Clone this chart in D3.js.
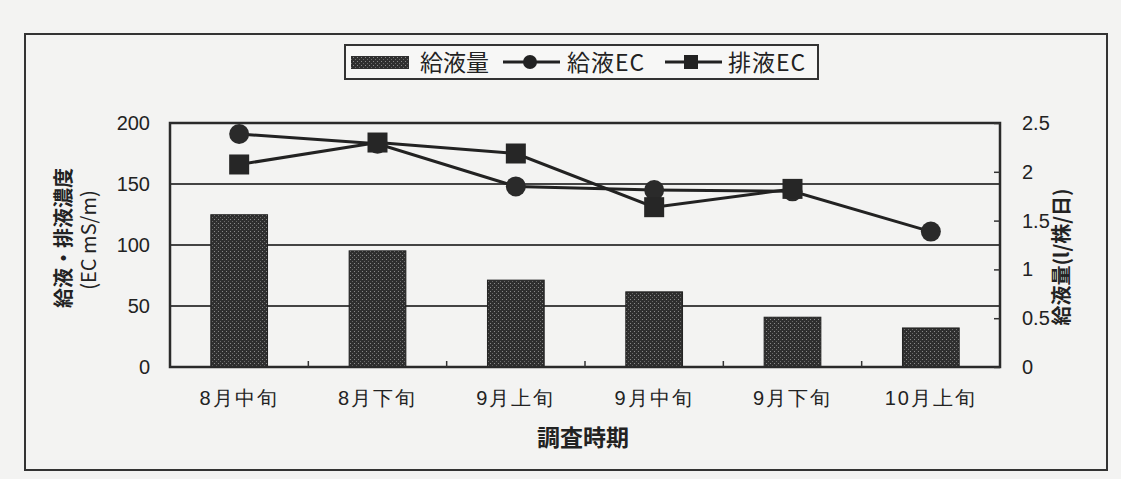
<!DOCTYPE html>
<html>
<head>
<meta charset="utf-8">
<script src="https://cdn.jsdelivr.net/npm/d3@7"></script>
<style>
  body { margin: 0; background: #f3f3f2; }
  svg { display: block; font-family: "Noto Sans CJK JP", "Noto Sans", sans-serif; }
</style>
</head>
<body>
<div id="chart"></div>
<script>
// data
var periods = ["8月中旬", "8月下旬", "9月上旬", "9月中旬", "9月下旬", "10月上旬"];
var supplyVolume = [1.56, 1.19, 0.89, 0.77, 0.51, 0.40];   // 給液量 (l/株/日)
var supplyEC = [191, 183, 148, 145, 144, 111];               // 給液EC
var drainEC = [166, 184, 175, 131, 146, null];               // 排液EC
var leftTicks = [0, 50, 100, 150, 200];
var rightTicks = [0, 0.5, 1, 1.5, 2, 2.5];

var W = 1121, H = 479;
var margin = {top: 123, right: 121, bottom: 112, left: 170};
var width = W - margin.left - margin.right,
    height = H - margin.top - margin.bottom;

var svg = d3.select("#chart").append("svg")
    .attr("width", W)
    .attr("height", H);

// bar texture
var defs = svg.append("defs");
var pat = defs.append("pattern")
    .attr("id", "stipple")
    .attr("width", 4).attr("height", 4)
    .attr("patternUnits", "userSpaceOnUse");
pat.append("rect").attr("width", 4).attr("height", 4).attr("fill", "#2f2f2f");
pat.append("rect").attr("x", 0).attr("y", 0).attr("width", 1).attr("height", 1).attr("fill", "#8a8a8a");
pat.append("rect").attr("x", 2).attr("y", 2).attr("width", 1).attr("height", 1).attr("fill", "#6a6a6a");

// outer frame
svg.append("rect")
    .attr("x", 25).attr("y", 34)
    .attr("width", 1082).attr("height", 436)
    .attr("fill", "none").attr("stroke", "#333").attr("stroke-width", 2);

var g = svg.append("g")
    .attr("transform", "translate(" + margin.left + "," + margin.top + ")");

var x = d3.scaleBand().domain(periods).range([0, width]).paddingInner(0.59).paddingOuter(0.295);
var xc = d3.scaleBand().domain(periods).range([0, width]);
var yL = d3.scaleLinear().domain([0, 200]).range([height, 0]);
var yR = d3.scaleLinear().domain([0, 2.5]).range([height, 0]);

// gridlines
g.selectAll(".grid").data(leftTicks.slice(1, 4)).enter().append("line")
    .attr("x1", 0).attr("x2", width)
    .attr("y1", function(d) { return yL(d); })
    .attr("y2", function(d) { return yL(d); })
    .attr("stroke", "#444").attr("stroke-width", 2);

// bars
g.selectAll(".bar").data(supplyVolume).enter().append("rect")
    .attr("x", function(d, i) { return x(periods[i]); })
    .attr("width", x.bandwidth())
    .attr("y", function(d) { return yR(d); })
    .attr("height", function(d) { return height - yR(d); })
    .attr("fill", "url(#stipple)")
    .attr("stroke", "#222").attr("stroke-width", 1);

// plot frame
g.append("rect")
    .attr("width", width).attr("height", height)
    .attr("fill", "none").attr("stroke", "#2a2a2a").attr("stroke-width", 2.5);

// category ticks on x axis
g.selectAll(".xtick").data(periods.slice(1)).enter().append("line")
    .attr("x1", function(d) { return xc(d); })
    .attr("x2", function(d) { return xc(d); })
    .attr("y1", height).attr("y2", height - 6)
    .attr("stroke", "#333").attr("stroke-width", 1.5);

// left axis labels
var leftAxis = d3.axisLeft(yL).tickValues(leftTicks).tickSize(0).tickPadding(20);
g.append("g").call(leftAxis)
    .call(function(s) { s.select(".domain").remove(); })
    .selectAll("text").attr("font-size", 20).attr("fill", "#222")
    .attr("font-family", "Liberation Sans, Arial, sans-serif");

// right axis with inward ticks
var rightAxis = d3.axisRight(yR).tickValues(rightTicks).tickSize(-6).tickPadding(22)
    .tickFormat(function(d) { return d3.format("")(d); });
g.append("g").attr("transform", "translate(" + width + ",0)").call(rightAxis)
    .call(function(s) { s.select(".domain").remove(); })
    .call(function(s) { s.selectAll("line").attr("stroke", "#333").attr("stroke-width", 1.5); })
    .selectAll("text").attr("font-size", 20).attr("fill", "#222")
    .attr("font-family", "Liberation Sans, Arial, sans-serif");

// x axis labels
var xAxis = d3.axisBottom(xc).tickSize(0).tickPadding(24);
g.append("g").attr("transform", "translate(0," + height + ")").call(xAxis)
    .call(function(s) { s.select(".domain").remove(); })
    .selectAll("text").attr("font-size", 20).attr("letter-spacing", 2).attr("fill", "#222");

// lines
var line = d3.line()
    .defined(function(d) { return d != null; })
    .x(function(d, i) { return xc(periods[i]) + xc.bandwidth() / 2; })
    .y(function(d) { return yL(d); });

g.append("path").datum(supplyEC)
    .attr("d", line).attr("fill", "none").attr("stroke", "#222").attr("stroke-width", 3);
g.append("path").datum(drainEC)
    .attr("d", line).attr("fill", "none").attr("stroke", "#222").attr("stroke-width", 3);

g.selectAll(".dot").data(supplyEC).enter().append("circle")
    .attr("cx", function(d, i) { return xc(periods[i]) + xc.bandwidth() / 2; })
    .attr("cy", function(d) { return yL(d); })
    .attr("r", 10)
    .attr("fill", "#2a2a2a");

g.selectAll(".sq").data(drainEC.filter(function(d) { return d != null; })).enter().append("rect")
    .attr("x", function(d, i) { return xc(periods[i]) + xc.bandwidth() / 2 - 10; })
    .attr("y", function(d) { return yL(d) - 10; })
    .attr("width", 20).attr("height", 20)
    .attr("fill", "#262626");

// axis titles
svg.append("text")
    .attr("transform", "translate(66,238) rotate(-90)")
    .attr("text-anchor", "middle").attr("dominant-baseline", "middle")
    .attr("font-size", 20).attr("font-weight", "bold").attr("fill", "#222")
    .text("給液・排液濃度");
svg.append("text")
    .attr("transform", "translate(91,240) rotate(-90)")
    .attr("text-anchor", "middle").attr("dominant-baseline", "middle")
    .attr("font-size", 20).attr("fill", "#222")
    .text("(EC mS/m)");
svg.append("text")
    .attr("transform", "translate(1064,257) rotate(-90)")
    .attr("text-anchor", "middle").attr("dominant-baseline", "middle")
    .attr("font-size", 20).attr("font-weight", "bold").attr("fill", "#222")
    .text("給液量(l/株/日)");
svg.append("text")
    .attr("x", 583).attr("y", 446)
    .attr("text-anchor", "middle")
    .attr("font-size", 23).attr("font-weight", "bold").attr("fill", "#222")
    .text("調査時期");

// legend
var lg = svg.append("g").attr("transform", "translate(345,45)");
lg.append("rect").attr("width", 473).attr("height", 34)
    .attr("fill", "#f7f7f6").attr("stroke", "#333").attr("stroke-width", 2);
lg.append("rect").attr("x", 6).attr("y", 11).attr("width", 58).attr("height", 13)
    .attr("fill", "url(#stipple)");
lg.append("text").attr("x", 75).attr("y", 26).attr("font-size", 23).attr("fill", "#222").text("給液量");
lg.append("line").attr("x1", 158).attr("x2", 215).attr("y1", 17).attr("y2", 17)
    .attr("stroke", "#222").attr("stroke-width", 3);
lg.append("circle").attr("cx", 185).attr("cy", 17).attr("r", 7).attr("fill", "#222");
lg.append("text").attr("x", 222).attr("y", 26).attr("font-size", 23).attr("letter-spacing", 1).attr("fill", "#222").text("給液EC");
lg.append("line").attr("x1", 320).attr("x2", 377).attr("y1", 17).attr("y2", 17)
    .attr("stroke", "#222").attr("stroke-width", 3);
lg.append("rect").attr("x", 339).attr("y", 10).attr("width", 14).attr("height", 14).attr("fill", "#222");
lg.append("text").attr("x", 383).attr("y", 26).attr("font-size", 23).attr("letter-spacing", 1).attr("fill", "#222").text("排液EC");
</script>
</body>
</html>
